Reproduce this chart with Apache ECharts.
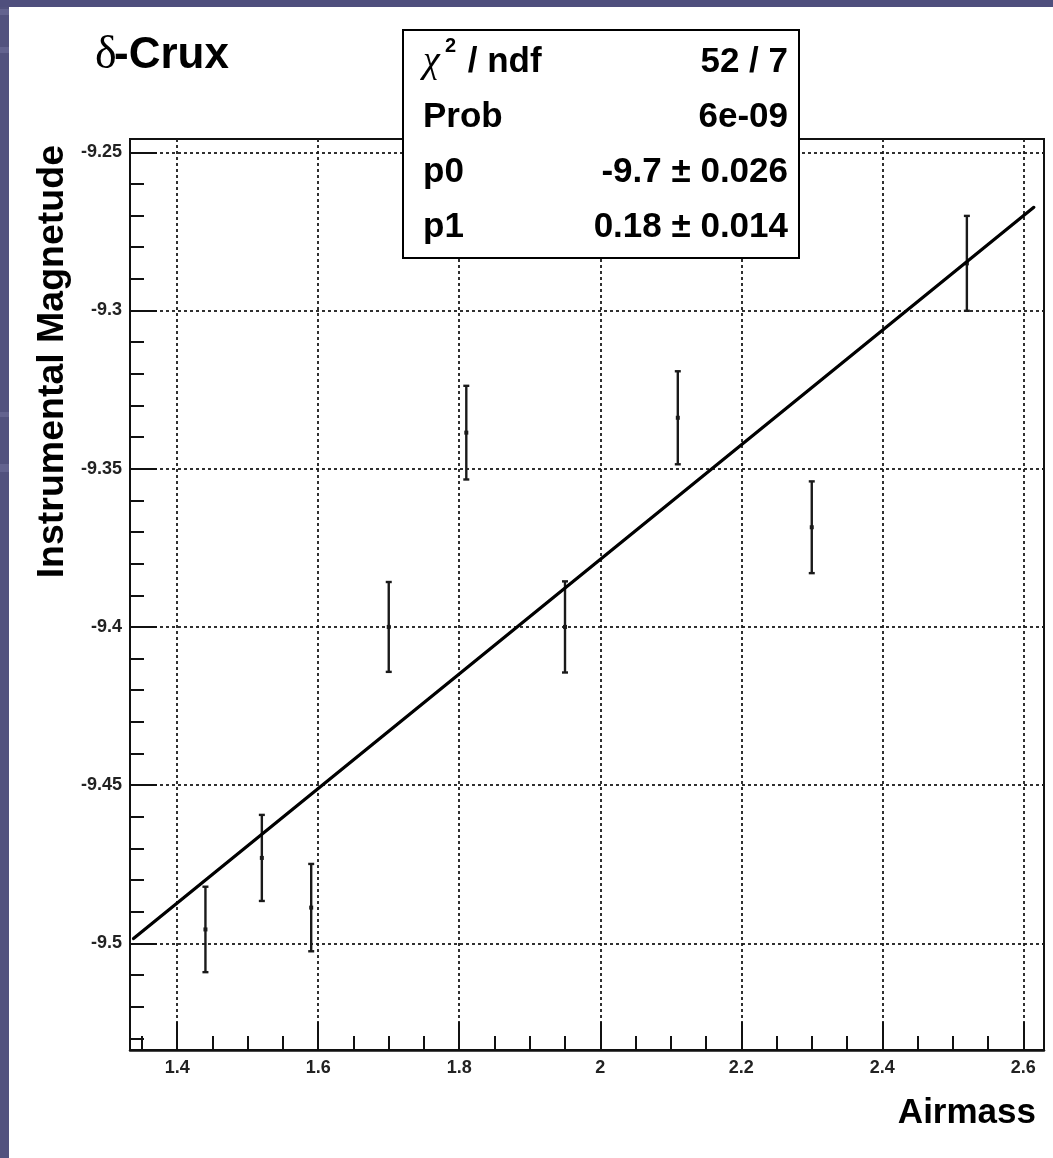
<!DOCTYPE html>
<html><head><meta charset="utf-8">
<script src="https://cdn.jsdelivr.net/npm/echarts@6/dist/echarts.min.js"></script>
<style>html,body{margin:0;padding:0;background:#fff}#c{width:1053px;height:1158px}</style>
</head><body><div id="c"></div>
<script>
// ---- data ----
const airmass   = [1.44, 1.52, 1.59, 1.70, 1.81, 1.95, 2.11, 2.30, 2.52];
const magnitude = [-9.4956, -9.473, -9.4887, -9.400, -9.3386, -9.400, -9.3339, -9.3685, -9.2851];
const magError  = [0.0135, 0.0136, 0.0138, 0.0142, 0.0148, 0.0144, 0.0147, 0.0145, 0.0150];
const fitX = [1.338, 2.615];
const fitY = [-9.4985, -9.2674];
const xMajorTicks = [1.4, 1.6, 1.8, 2.0, 2.2, 2.4, 2.6];
const xMinorTicks = [1.35, 1.45, 1.5, 1.55, 1.65, 1.7, 1.75, 1.85, 1.9, 1.95, 2.05, 2.1, 2.15, 2.25, 2.3, 2.35, 2.45, 2.5, 2.55];
const yMajorTicks = [-9.5, -9.45, -9.4, -9.35, -9.3, -9.25];
const yMinorTicks = [-9.53, -9.52, -9.51, -9.49, -9.48, -9.47, -9.46, -9.44, -9.43, -9.42, -9.41,
                     -9.39, -9.38, -9.37, -9.36, -9.34, -9.33, -9.32, -9.31, -9.29, -9.28, -9.27, -9.26];
const xRange = [1.333, 2.6294];
const yRange = [-9.5337, -9.2458];
const titleText = '-Crux';
const xTitle = 'Airmass';
const yTitle = 'Instrumental Magnetude';
const statNames  = ['Prob', 'p0', 'p1'];
const statValues = ['52 / 7', '6e-09', '-9.7 \u00b1 0.026', '0.18 \u00b1 0.014'];

// ---- chart ----
const SANS = '"Liberation Sans", Arial, Helvetica, sans-serif';
const SERIF = '"Liberation Serif", "DejaVu Serif", serif';
const fmt = v => String(parseFloat(v.toFixed(3)));
const chart = echarts.init(document.getElementById('c'), null, {renderer: 'canvas'});

const gridLine = {show: true, lineStyle: {color: '#1a1a1a', width: 1.8, type: [3, 3]}};
const labelStyle = {fontFamily: SANS, fontWeight: 'bold', fontSize: 18, color: '#222'};

const errData = airmass.map((x, i) => [x, magnitude[i], magError[i]]);

const statRowsY = [62, 117, 172, 227];
const graphics = [
  {type: 'rect', z: 1, shape: {x: 0, y: 0, width: 9, height: 1158}, style: {fill: '#52527e'}},
  {type: 'rect', z: 1, shape: {x: 0, y: 0, width: 1053, height: 7}, style: {fill: '#4f4f7d'}},
  {type: 'rect', z: 2, shape: {x: 0, y: 9, width: 9, height: 6}, style: {fill: '#63638f'}},
  {type: 'rect', z: 2, shape: {x: 0, y: 47, width: 9, height: 6}, style: {fill: '#63638f'}},
  {type: 'rect', z: 2, shape: {x: 0, y: 412, width: 9, height: 5}, style: {fill: '#63638f'}},
  {type: 'rect', z: 2, shape: {x: 0, y: 464, width: 9, height: 8}, style: {fill: '#63638f'}},
  {type: 'text', z: 10, x: 95, y: 56, style: {text: '\u03b4', font: '46px ' + SERIF, fill: '#000', align: 'left', verticalAlign: 'middle'}},
  {type: 'text', z: 10, x: 114, y: 56, style: {text: titleText, font: 'bold 44px ' + SANS, fill: '#000', align: 'left', verticalAlign: 'middle'}},
  {type: 'text', z: 10, x: 1036, y: 1113, style: {text: xTitle, font: 'bold 35px ' + SANS, fill: '#000', align: 'right', verticalAlign: 'middle'}},
  {type: 'text', z: 10, x: 53, y: 145, rotation: Math.PI / 2, style: {text: yTitle, font: 'bold 37.5px ' + SANS, fill: '#000', align: 'right', verticalAlign: 'middle'}},
  // stats box
  {type: 'rect', z: 100, shape: {x: 403, y: 30, width: 396, height: 228}, style: {fill: '#fff', stroke: '#000', lineWidth: 2}},
  {type: 'text', z: 101, x: 423, y: 62, style: {text: '\u03c7', font: 'italic 38px ' + SERIF, fill: '#000', align: 'left', verticalAlign: 'middle'}},
  {type: 'text', z: 101, x: 445, y: 46, style: {text: '2', font: 'bold 20px ' + SANS, fill: '#000', align: 'left', verticalAlign: 'middle'}},
  {type: 'text', z: 101, x: 458, y: 62, style: {text: ' / ndf', font: 'bold 35px ' + SANS, fill: '#000', align: 'left', verticalAlign: 'middle'}}
];
statNames.forEach((n, i) => graphics.push({type: 'text', z: 101, x: 423, y: statRowsY[i + 1],
  style: {text: n, font: 'bold 35px ' + SANS, fill: '#000', align: 'left', verticalAlign: 'middle'}}));
statValues.forEach((v, i) => graphics.push({type: 'text', z: 101, x: 788, y: statRowsY[i],
  style: {text: v, font: 'bold 35px ' + SANS, fill: '#000', align: 'right', verticalAlign: 'middle'}}));

chart.setOption({
  animation: false,
  backgroundColor: '#ffffff',
  grid: {left: 130, right: 9, top: 139, bottom: 108, show: true, borderColor: '#111', borderWidth: 2, backgroundColor: 'transparent'},
  xAxis: [
    {type: 'value', min: xRange[0], max: xRange[1], position: 'bottom',
     axisLine: {show: true, onZero: false, lineStyle: {color: '#111', width: 2.5}},
     axisTick: {show: true, inside: true, length: 28, customValues: xMajorTicks, lineStyle: {color: '#111', width: 2}},
     axisLabel: Object.assign({show: true, margin: 9, customValues: xMajorTicks, formatter: fmt}, labelStyle),
     splitLine: gridLine},
    {type: 'value', min: xRange[0], max: xRange[1], position: 'bottom',
     axisLine: {show: false},
     axisTick: {show: true, inside: true, length: 14, customValues: xMinorTicks, lineStyle: {color: '#111', width: 2}},
     axisLabel: {show: false}, splitLine: {show: false}}
  ],
  yAxis: [
    {type: 'value', min: yRange[0], max: yRange[1], position: 'left',
     axisLine: {show: true, onZero: false, lineStyle: {color: '#111', width: 2}},
     axisTick: {show: true, inside: true, length: 27, customValues: yMajorTicks, lineStyle: {color: '#111', width: 2}},
     axisLabel: Object.assign({show: true, margin: 8, customValues: yMajorTicks, formatter: fmt}, labelStyle),
     splitLine: gridLine},
    {type: 'value', min: yRange[0], max: yRange[1], position: 'left',
     axisLine: {show: false},
     axisTick: {show: true, inside: true, length: 14, customValues: yMinorTicks, lineStyle: {color: '#111', width: 2}},
     axisLabel: {show: false}, splitLine: {show: false}}
  ],
  series: [
    {type: 'custom', xAxisIndex: 0, yAxisIndex: 0, data: errData, encode: {x: 0, y: 1}, z: 5,
     renderItem: function (params, api) {
       const x = api.value(0), y = api.value(1), e = api.value(2);
       const t = api.coord([x, y + e]), b = api.coord([x, y - e]), c = api.coord([x, y]);
       const st = {stroke: '#1a1a1a', lineWidth: 2.4};
       return {type: 'group', children: [
         {type: 'line', shape: {x1: t[0], y1: t[1], x2: b[0], y2: b[1]}, style: st},
         {type: 'line', shape: {x1: t[0] - 3, y1: t[1], x2: t[0] + 3, y2: t[1]}, style: st},
         {type: 'line', shape: {x1: b[0] - 3, y1: b[1], x2: b[0] + 3, y2: b[1]}, style: st},
         {type: 'rect', shape: {x: c[0] - 2, y: c[1] - 2, width: 4, height: 4}, style: {fill: '#1a1a1a'}}
       ]};
     }},
    {type: 'line', xAxisIndex: 0, yAxisIndex: 0, z: 6, showSymbol: false, symbol: 'none',
     data: fitX.map((x, i) => [x, fitY[i]]),
     lineStyle: {color: '#000', width: 3.2, cap: 'round'}}
  ],
  graphic: {elements: graphics}
});
</script></body></html>
